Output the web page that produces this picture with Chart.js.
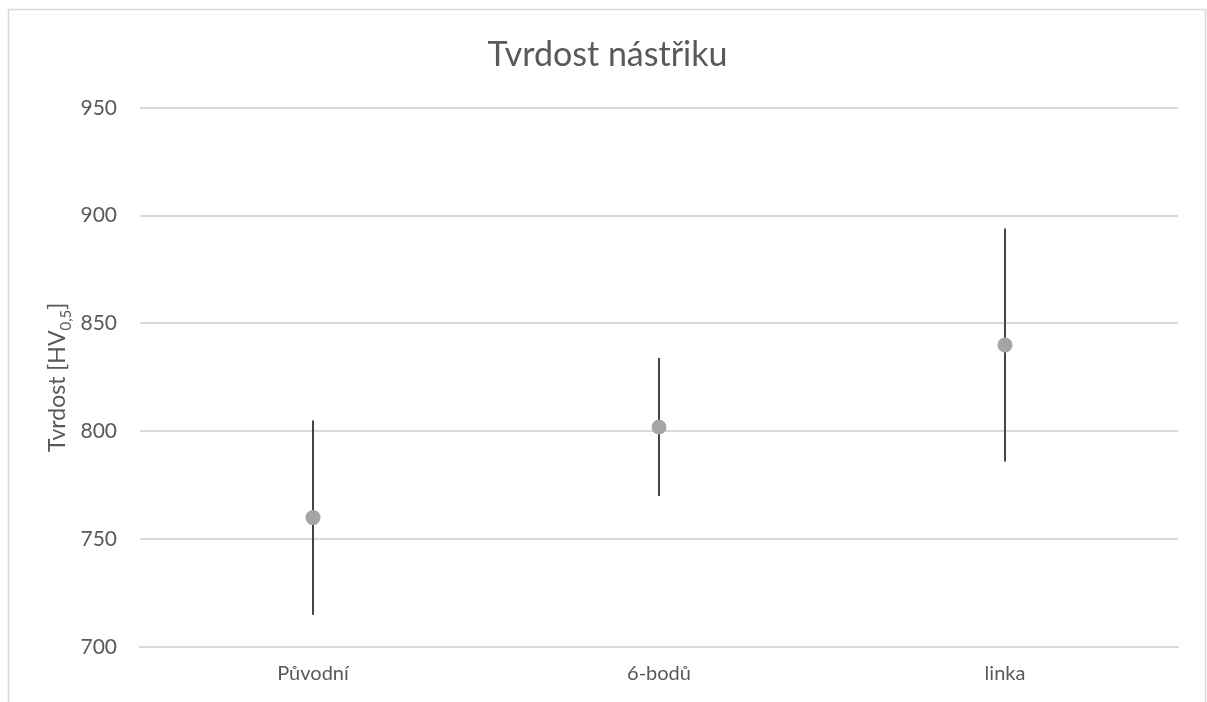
<!DOCTYPE html>
<html>
<head>
<meta charset="utf-8">
<script src="https://cdn.jsdelivr.net/npm/chart.js@4"></script>
<style>
  html, body { margin: 0; padding: 0; background: #fff; }
  #wrap { position: absolute; left: 0; top: 0; width: 1207px; height: 702px; }
</style>
</head>
<body>
<div id="wrap"><canvas id="chart" width="1207" height="702"></canvas></div>
<script>
const categories = ['Původní', '6-bodů', 'linka'];
const means = [760, 802, 840];
const errLow = [715, 770, 786];
const errHigh = [805, 834, 894];
const yTicks = [700, 750, 800, 850, 900, 950];

const FONT = 'Lato, "Open Sans", sans-serif';
const TEXT = '#595959';

// frame around the chart (left, top, right)
const framePlugin = {
  id: 'frame',
  beforeDraw(chart) {
    const ctx = chart.ctx;
    ctx.save();
    ctx.strokeStyle = '#d9d9d9';
    ctx.lineWidth = 1.5;
    ctx.beginPath();
    ctx.moveTo(8.5, 702);
    ctx.lineTo(8.5, 9.5);
    ctx.lineTo(1205.5, 9.5);
    ctx.lineTo(1205.5, 702);
    ctx.stroke();
    ctx.restore();
  }
};

// vertical error bars, behind the points
const errorBarPlugin = {
  id: 'errorBars',
  beforeDatasetsDraw(chart) {
    const ctx = chart.ctx;
    const x = chart.scales.x;
    const y = chart.scales.y;
    ctx.save();
    ctx.strokeStyle = '#444444';
    ctx.lineWidth = 2;
    categories.forEach((c, i) => {
      const px = x.getPixelForValue(i);
      ctx.beginPath();
      ctx.moveTo(px, y.getPixelForValue(errHigh[i]));
      ctx.lineTo(px, y.getPixelForValue(errLow[i]));
      ctx.stroke();
    });
    ctx.restore();
  }
};

// y axis title with subscript
const yTitlePlugin = {
  id: 'yTitle',
  afterDraw(chart) {
    const ctx = chart.ctx;
    const area = chart.chartArea;
    const main = '23px ' + FONT;
    const sub = '15px ' + FONT;
    const parts = [['Tvrdost [HV', main, 0], ['0,5', sub, 6], [']', main, 0]];
    ctx.save();
    let total = 0;
    parts.forEach(p => { ctx.font = p[1]; total += ctx.measureText(p[0]).width; });
    ctx.translate(65, (area.top + area.bottom) / 2);
    ctx.rotate(-Math.PI / 2);
    ctx.fillStyle = TEXT;
    ctx.textBaseline = 'alphabetic';
    ctx.textAlign = 'left';
    let tx = -total / 2;
    parts.forEach(p => {
      ctx.font = p[1];
      ctx.fillText(p[0], tx, p[2]);
      tx += ctx.measureText(p[0]).width;
    });
    ctx.restore();
  }
};

new Chart(document.getElementById('chart'), {
  type: 'line',
  data: {
    labels: categories,
    datasets: [{
      label: 'Tvrdost',
      data: means,
      showLine: false,
      pointRadius: 7.5,
      pointHoverRadius: 7.5,
      pointBackgroundColor: '#a5a5a5',
      pointBorderColor: '#a5a5a5',
      pointBorderWidth: 0
    }]
  },
  options: {
    responsive: false,
    animation: false,
    layout: { padding: { left: 37, right: 29, top: 0, bottom: 0 } },
    plugins: {
      legend: { display: false },
      tooltip: { enabled: false },
      title: {
        display: true,
        text: 'Tvrdost nástřiku',
        color: TEXT,
        font: { family: FONT, size: 34, weight: 'normal' },
        padding: { top: 35, bottom: 32 }
      }
    },
    scales: {
      x: {
        type: 'category',
        offset: true,
        grid: { display: false, drawTicks: false },
        border: { display: true, color: '#d9d9d9', width: 2 },
        ticks: { color: TEXT, font: { family: FONT, size: 20 }, padding: 15, maxRotation: 0 },
        afterFit(scale) { scale.height = 55; }
      },
      y: {
        min: 700,
        max: 950,
        afterBuildTicks(scale) { scale.ticks = yTicks.map(v => ({ value: v })); },
        grid: { color: '#d9d9d9', lineWidth: 2, drawTicks: false },
        border: { display: false },
        ticks: { color: TEXT, font: { family: FONT, size: 21 }, padding: 23 },
        afterFit(scale) { scale.width = 103; }
      }
    }
  },
  plugins: [framePlugin, errorBarPlugin, yTitlePlugin]
});
</script>
</body>
</html>
